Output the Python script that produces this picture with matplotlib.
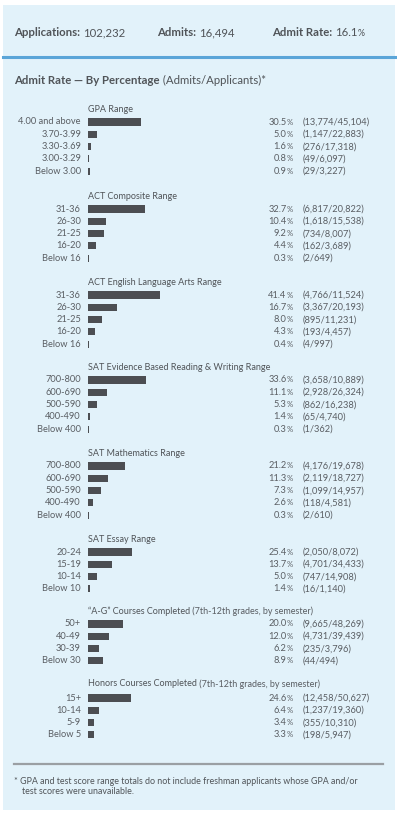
import matplotlib
matplotlib.use("Agg")
import matplotlib.pyplot as plt
from matplotlib.patches import Rectangle
from matplotlib.lines import Line2D
import matplotlib.transforms as mtransforms

plt.rcParams['font.family'] = ['Lato', 'DejaVu Sans']

# ---------------- data ----------------
applications = "102,232"
admits = "16,494"
admit_rate = "16.1%"

group_titles = [
    ("GPA Range", ""),
    ("ACT Composite Range", ""),
    ("ACT English Language Arts Range", ""),
    ("SAT Evidence Based Reading & Writing Range", ""),
    ("SAT Mathematics Range", ""),
    ("SAT Essay Range", ""),
    ("\u201cA-G\u201d Courses Completed", " (7th-12th grades, by semester)"),
    ("Honors Courses Completed", " (7th-12th grades, by semester)"),
]

gpa_labels = ["4.00 and above", "3.70-3.99", "3.30-3.69", "3.00-3.29", "Below 3.00"]
gpa_rates = [30.5, 5.0, 1.6, 0.8, 0.9]
gpa_counts = ["13,774/45,104", "1,147/22,883", "276/17,318", "49/6,097", "29/3,227"]

actc_labels = ["31-36", "26-30", "21-25", "16-20", "Below 16"]
actc_rates = [32.7, 10.4, 9.2, 4.4, 0.3]
actc_counts = ["6,817/20,822", "1,618/15,538", "734/8,007", "162/3,689", "2/649"]

acte_labels = ["31-36", "26-30", "21-25", "16-20", "Below 16"]
acte_rates = [41.4, 16.7, 8.0, 4.3, 0.4]
acte_counts = ["4,766/11,524", "3,367/20,193", "895/11,231", "193/4,457", "4/997"]

satr_labels = ["700-800", "600-690", "500-590", "400-490", "Below 400"]
satr_rates = [33.6, 11.1, 5.3, 1.4, 0.3]
satr_counts = ["3,658/10,889", "2,928/26,324", "862/16,238", "65/4,740", "1/362"]

satm_labels = ["700-800", "600-690", "500-590", "400-490", "Below 400"]
satm_rates = [21.2, 11.3, 7.3, 2.6, 0.3]
satm_counts = ["4,176/19,678", "2,119/18,727", "1,099/14,957", "118/4,581", "2/610"]

sate_labels = ["20-24", "15-19", "10-14", "Below 10"]
sate_rates = [25.4, 13.7, 5.0, 1.4]
sate_counts = ["2,050/8,072", "4,701/34,433", "747/14,908", "16/1,140"]

ag_labels = ["50+", "40-49", "30-39", "Below 30"]
ag_rates = [20.0, 12.0, 6.2, 8.9]
ag_counts = ["9,665/48,269", "4,731/39,439", "235/3,796", "44/494"]

hon_labels = ["15+", "10-14", "5-9", "Below 5"]
hon_rates = [24.6, 6.4, 3.4, 3.3]
hon_counts = ["12,458/50,627", "1,237/19,360", "355/10,310", "198/5,947"]

groups = [
    (gpa_labels, gpa_rates, gpa_counts),
    (actc_labels, actc_rates, actc_counts),
    (acte_labels, acte_rates, acte_counts),
    (satr_labels, satr_rates, satr_counts),
    (satm_labels, satm_rates, satm_counts),
    (sate_labels, sate_rates, sate_counts),
    (ag_labels, ag_rates, ag_counts),
    (hon_labels, hon_rates, hon_counts),
]

footnote1 = "* GPA and test score range totals do not include freshman applicants whose GPA and/or"
footnote2 = "test scores were unavailable."

# ---------------- layout ----------------
W, H = 397, 814
fig = plt.figure(figsize=(W / 100, H / 100), dpi=100)
fig.patch.set_facecolor("white")

def fx(px):
    return px / W

def fy(py):
    return 1 - py / H

BG = "#E2F2FA"
TXT = "#505458"
TXT2 = "#5a5e63"
BAR = "#4C4E52"

fig.patches.append(Rectangle((fx(3), fy(810)), fx(392), (810 - 5) / H,
                             transform=fig.transFigure, facecolor=BG, edgecolor="none", zorder=-5))
fig.lines.append(Line2D([fx(3), fx(397)], [fy(57), fy(57)], transform=fig.transFigure,
                        color="#5AA5D8", lw=2.2, zorder=-1))
fig.lines.append(Line2D([fx(14), fx(383)], [fy(764), fy(764)], transform=fig.transFigure,
                        color="#9a9fa3", lw=1.6, zorder=-1))

renderer = fig.canvas.get_renderer()

def two_part(xpx, ypx, a, b, size, wa="bold", wb="normal", ca=TXT, cb=TXT):
    t1 = fig.text(fx(xpx), fy(ypx), a, fontsize=size, fontweight=wa, color=ca, va="center", ha="left")
    bb = t1.get_window_extent(renderer=renderer)
    fig.text(bb.x1 / W, fy(ypx), b, fontsize=size, fontweight=wb,
             color=cb, va="center", ha="left")

def value_pct(xr_px, ypx_fig, num, size_num, size_pct, color, weight="normal"):
    # number followed by a small percent sign, right-aligned at xr_px
    tp = fig.text(fx(xr_px), ypx_fig, "%", fontsize=size_pct, color=color, va="center", ha="right",
                  fontweight="normal")
    w = tp.get_window_extent(renderer=renderer).width
    fig.text(fx(xr_px - w - 0.2), ypx_fig, num, fontsize=size_num, color=color, va="center",
             ha="right", fontweight=weight)

hs = 8.2
two_part(14, 33, "Applications: ", applications, hs)
two_part(157, 33, "Admits: ", admits, hs)
t_ar = fig.text(fx(272), fy(33), "Admit Rate: ", fontsize=hs, fontweight="bold", color=TXT,
                va="center", ha="left")
bb = t_ar.get_window_extent(renderer=renderer)
t_num = fig.text(bb.x1 / W, fy(33), admit_rate[:-1], fontsize=hs, color=TXT, va="center", ha="left")
bb2 = t_num.get_window_extent(renderer=renderer)
fig.text(bb2.x1 / W + 0.001, fy(33), "%", fontsize=6.3, color=TXT, va="center", ha="left")

two_part(14, 80, "Admit Rate \u2014 By Percentage", " (Admits/Applicants)*", 8.2)

first_rows = [122, 209, 295, 380, 466, 552, 624, 698]
row_h = 12.3
x0_px = 88
px_per_pct = 1.74
fs = 6.7

for (labels, rates, counts), (t_main, t_sub), r0 in zip(groups, group_titles, first_rows):
    n = len(labels)
    top = r0 - row_h / 2
    ax = fig.add_axes([fx(x0_px), fy(top + n * row_h), fx(100 * px_per_pct), n * row_h / H])
    ax.set_xlim(0, 100)
    ax.set_ylim(n - 0.5, -0.5)
    ax.axis("off")
    ax.barh(range(n), rates, height=0.58, color=BAR, left=0)
    tr = mtransforms.blended_transform_factory(fig.transFigure, ax.transData)
    for i in range(n):
        ax.text(fx(81), i, labels[i], transform=tr, ha="right", va="center", fontsize=fs, color=TXT2)
        ax.text(fx(303), i, f"({counts[i]})", transform=tr, ha="left", va="center", fontsize=fs, color=TXT2)
        yfig = fig.transFigure.inverted().transform(ax.transData.transform((0, i)))[1]
        value_pct(293, yfig, f"{rates[i]:.1f}", fs, 5.6, TXT2)
    ty = fy(r0 - (14 if r0 == 698 else 12.5))
    t1 = fig.text(fx(88), ty, t_main, fontsize=6.5, color=TXT, va="center", ha="left")
    if t_sub:
        bb = t1.get_window_extent(renderer=renderer)
        fig.text(bb.x1 / W, ty, t_sub, fontsize=6.5, color=TXT2, va="center", ha="left")

fig.text(fx(14), fy(781), footnote1, fontsize=6.4, color=TXT, va="center", ha="left")
fig.text(fx(22), fy(792), footnote2, fontsize=6.4, color=TXT, va="center", ha="left")

fig.savefig("out.png", dpi=100, facecolor="white")
